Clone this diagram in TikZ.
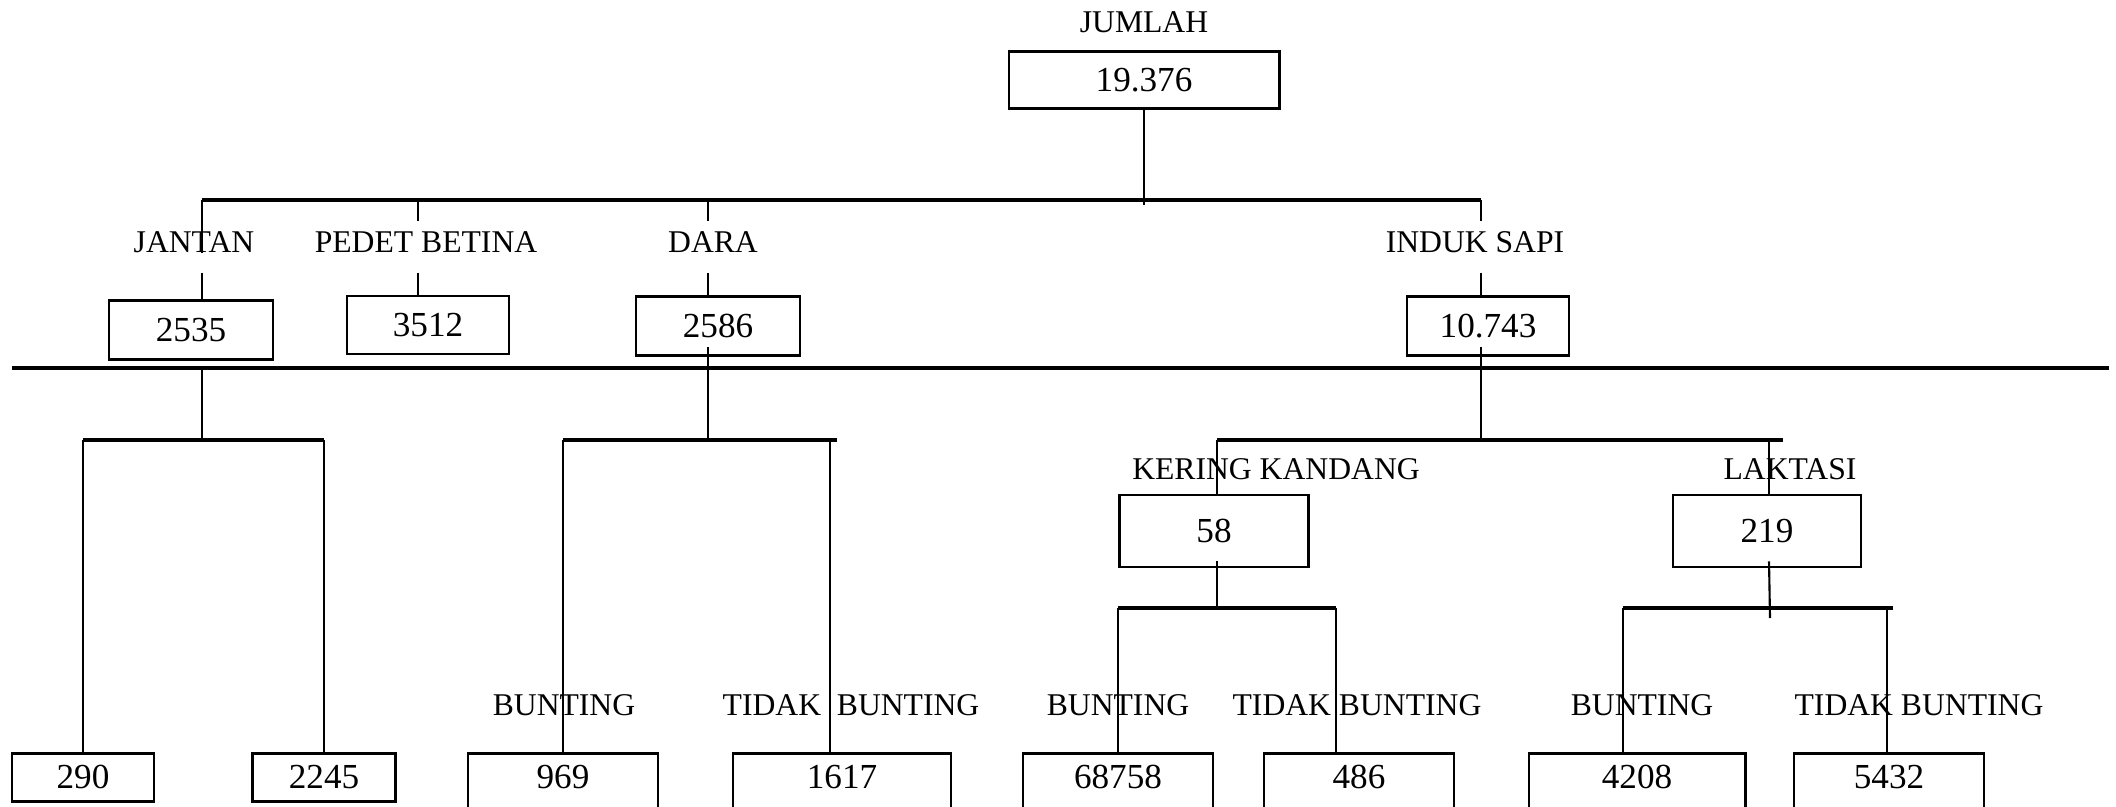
\documentclass[tikz,border=0pt]{standalone}
\usepackage{fontspec}
\setmainfont{Liberation Serif}
\usetikzlibrary{positioning}

\begin{document}
\begin{tikzpicture}[
  x=0.01cm, y=-0.01cm,
  box/.style={draw=black, line width=0.8pt, inner sep=0pt, align=center,
              font=\fontsize{10}{12}\selectfont},
  leaf/.style={box, anchor=north, text height=3.5mm, text depth=1.3mm},
  deep/.style={text depth=6mm},
  tag/.style={inner sep=0pt, anchor=base, text height=3.1mm, text depth=1.9mm,
              font=\fontsize{9}{10}\selectfont},
  link/.style={line width=0.6pt, draw=black},
  bus/.style={line width=0.9pt, draw=black}
]
  \useasboundingbox (0,0) rectangle (2116,807);
  \clip (0,0) rectangle (2116,807);

  \node[tag] (jumlahL) at (1144,33) {JUMLAH};
  \node[box, minimum width=2.70cm, minimum height=5.7mm] (jumlah) at (1144,80) {19.376};

  \node[tag] (jantanL) at (194,253) {JANTAN};
  \node[tag] (pedetL) at (426,253) {PEDET BETINA};
  \node[tag] (daraL) at (713,253) {DARA};
  \node[tag] (indukL) at (1475,253) {INDUK SAPI};

  \node[box, minimum width=1.64cm, minimum height=5.9mm] (jantan) at (191,330) {2535};
  \node[box, minimum width=1.62cm, minimum height=5.8mm] (pedet) at (428,325) {3512};
  \node[box, minimum width=1.64cm, minimum height=5.9mm] (dara) at (718,326) {2586};
  \node[box, minimum width=1.62cm, minimum height=5.9mm] (induk) at (1488,326) {10.743};

  \node[tag] (keringL) at (1276,480) {KERING KANDANG};
  \node[tag] (laktasiL) at (1790,480) {LAKTASI};
  \node[box, minimum width=1.89cm, minimum height=7.2mm] (kering) at (1214,531) {58};
  \node[box, minimum width=1.88cm, minimum height=7.2mm] (laktasi) at (1767,531) {219};

  \node[tag] (daraBL) at (564,715) {BUNTING};
  \node[tag] (daraTL) at (851,715) {TIDAK\ \ BUNTING};
  \node[tag] (keringBL) at (1118,715) {BUNTING};
  \node[tag] (keringTL) at (1357,715) {TIDAK BUNTING};
  \node[tag] (laktasiBL) at (1642,715) {BUNTING};
  \node[tag] (laktasiTL) at (1919,715) {TIDAK BUNTING};

  \node[leaf, minimum width=1.42cm] (jantan1) at (83,752) {290};
  \node[leaf, minimum width=1.43cm] (jantan2) at (324,752) {2245};
  \node[leaf, deep, minimum width=1.90cm] (dara1) at (563,752) {969};
  \node[leaf, deep, minimum width=2.18cm] (dara2) at (842,752) {1617};
  \node[leaf, deep, minimum width=1.90cm] (kering1) at (1118,752) {68758};
  \node[leaf, deep, minimum width=1.90cm] (kering2) at (1359,752) {486};
  \node[leaf, deep, minimum width=2.16cm] (laktasi1) at (1637,752) {4208};
  \node[leaf, deep, minimum width=1.90cm] (laktasi2) at (1889,752) {5432};

  \coordinate (busA) at (202,200);
  \coordinate (busB) at (1481,200);
  \coordinate (pedetX) at (418,200);
  \coordinate (daraX) at (708,200);
  \coordinate (sepL) at (12,368);
  \coordinate (sepR) at (2109,368);
  \coordinate (jantanB) at (202,440);
  \coordinate (daraB) at (708,440);
  \coordinate (daraT) at (830,440);
  \coordinate (indukB) at (1481,440);
  \coordinate (keringX) at (1217,440);
  \coordinate (laktasiX) at (1769,440);
  \coordinate (keringB) at (1217,608);
  \coordinate (keringT) at (1336,608);
  \coordinate (laktasiB) at (1770,608);
  \coordinate (laktasiP) at (1623,608);
  \coordinate (laktasiQ) at (1887,608);

  \draw[bus] (busA) -- (busB);
  \draw[link] (jumlah.south) -- ([yshift=-0.5mm]jumlah.south |- busA);
  \draw[link] (busA) -- (busA |- jantanL.base) (busA |- jantanL.south) -- (busA |- jantan.north);
  \draw[link] (pedetX) -- (pedetX |- pedetL.north) (pedetX |- pedetL.south) -- (pedetX |- pedet.north);
  \draw[link] (daraX) -- (daraX |- daraL.north) (daraX |- daraL.south) -- (daraX |- dara.north);
  \draw[link] (busB) -- (busB |- indukL.north) (busB |- indukL.south) -- (busB |- induk.north);

  \draw[bus] (sepL) -- (sepR);

  \draw[link] (busA |- sepL) -- (jantanB);
  \draw[bus] (jantan1.north |- jantanB) -- (jantan2.north |- jantanB);
  \draw[link] (jantan1.north |- jantanB) -- (jantan1.north);
  \draw[link] (jantan2.north |- jantanB) -- (jantan2.north);

  \draw[link] ([yshift=1mm]daraX |- dara.south) -- (daraB);
  \draw[bus] (dara1.north |- daraB) -- (daraT) -- ++(7,0);
  \draw[link] (dara1.north |- daraB) -- (dara1.north);
  \draw[link] (daraT) -- (daraT |- dara2.north);

  \draw[link] ([yshift=1mm]busB |- induk.south) -- (indukB);
  \draw[bus] (keringX) -- (laktasiX) -- ++(14,0);
  \draw[link] (keringX) -- (keringX |- kering.north);
  \draw[link] (laktasiX) -- (laktasiX |- laktasi.north);

  \draw[link] ([yshift=0.7mm]keringX |- kering.south) -- (keringB);
  \draw[bus] (kering1.north |- keringB) -- (keringT);
  \draw[link] (kering1.north |- keringB) -- (kering1.north);
  \draw[link] (keringT) -- (keringT |- kering2.north);

  \draw[link] ([yshift=0.7mm]laktasiX |- laktasi.south) -- ([yshift=-1mm]laktasiB);
  \draw[bus] (laktasiP) -- (laktasiQ) -- ++(6,0);
  \draw[link] (laktasiP) -- (laktasiP |- laktasi1.north);
  \draw[link] (laktasiQ) -- (laktasiQ |- laktasi2.north);
\end{tikzpicture}
\end{document}
